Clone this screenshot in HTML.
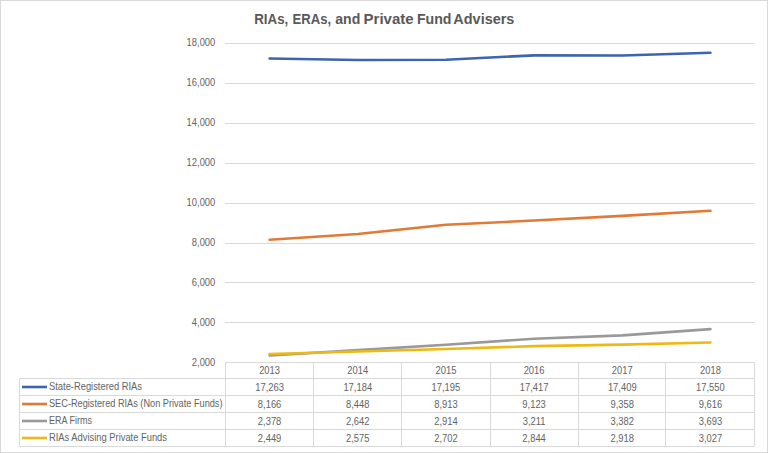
<!DOCTYPE html>
<html><head><meta charset="utf-8"><style>
html,body{margin:0;padding:0;background:#fff;}
body{width:768px;height:453px;overflow:hidden;position:relative;}
svg{position:absolute;left:0;top:0;}
text{font-family:"Liberation Sans",sans-serif;fill:#636363;}
text[font-weight="bold"]{fill:#595959;}
</style></head><body>
<svg width="768" height="453" viewBox="0 0 768 453">
<rect x="0.5" y="0.5" width="767" height="452" fill="#fff" stroke="#d9d9d9" stroke-width="1"/>
<text x="254.21" y="24.1" font-size="14.4" font-weight="bold" textLength="34.08" lengthAdjust="spacingAndGlyphs">RIAs,</text>
<text x="292.53" y="24.1" font-size="14.4" font-weight="bold" textLength="38.55" lengthAdjust="spacingAndGlyphs">ERAs,</text>
<text x="335.29" y="24.1" font-size="14.4" font-weight="bold" textLength="25.04" lengthAdjust="spacingAndGlyphs">and</text>
<text x="363.6" y="24.1" font-size="14.4" font-weight="bold" textLength="50.01" lengthAdjust="spacingAndGlyphs">Private</text>
<text x="416.96" y="24.1" font-size="14.4" font-weight="bold" textLength="34.57" lengthAdjust="spacingAndGlyphs">Fund</text>
<text x="453.39" y="24.1" font-size="14.4" font-weight="bold" textLength="60.95" lengthAdjust="spacingAndGlyphs">Advisers</text>

<line x1="225" y1="43.5" x2="754.5" y2="43.5" stroke="#d9d9d9" stroke-width="1"/>
<text transform="translate(215.3,45.90) scale(0.92,1)" font-size="10.2" text-anchor="end">18,000</text>
<line x1="225" y1="83.5" x2="754.5" y2="83.5" stroke="#d9d9d9" stroke-width="1"/>
<text transform="translate(215.3,85.90) scale(0.92,1)" font-size="10.2" text-anchor="end">16,000</text>
<line x1="225" y1="123.5" x2="754.5" y2="123.5" stroke="#d9d9d9" stroke-width="1"/>
<text transform="translate(215.3,125.90) scale(0.92,1)" font-size="10.2" text-anchor="end">14,000</text>
<line x1="225" y1="163.5" x2="754.5" y2="163.5" stroke="#d9d9d9" stroke-width="1"/>
<text transform="translate(215.3,165.90) scale(0.92,1)" font-size="10.2" text-anchor="end">12,000</text>
<line x1="225" y1="203.5" x2="754.5" y2="203.5" stroke="#d9d9d9" stroke-width="1"/>
<text transform="translate(215.3,205.90) scale(0.92,1)" font-size="10.2" text-anchor="end">10,000</text>
<line x1="225" y1="243.5" x2="754.5" y2="243.5" stroke="#d9d9d9" stroke-width="1"/>
<text transform="translate(215.3,245.90) scale(0.92,1)" font-size="10.2" text-anchor="end">8,000</text>
<line x1="225" y1="282.5" x2="754.5" y2="282.5" stroke="#d9d9d9" stroke-width="1"/>
<text transform="translate(215.3,285.90) scale(0.92,1)" font-size="10.2" text-anchor="end">6,000</text>
<line x1="225" y1="322.5" x2="754.5" y2="322.5" stroke="#d9d9d9" stroke-width="1"/>
<text transform="translate(215.3,325.90) scale(0.92,1)" font-size="10.2" text-anchor="end">4,000</text>
<text transform="translate(215.3,365.90) scale(0.92,1)" font-size="10.2" text-anchor="end">2,000</text>
<line x1="225" y1="362.5" x2="754.5" y2="362.5" stroke="#d9d9d9"/>
<line x1="19.5" y1="378.5" x2="754.5" y2="378.5" stroke="#d9d9d9"/>
<line x1="19.5" y1="395.5" x2="754.5" y2="395.5" stroke="#d9d9d9"/>
<line x1="19.5" y1="412.5" x2="754.5" y2="412.5" stroke="#d9d9d9"/>
<line x1="19.5" y1="429.5" x2="754.5" y2="429.5" stroke="#d9d9d9"/>
<line x1="19.5" y1="446.5" x2="754.5" y2="446.5" stroke="#d9d9d9"/>
<line x1="19.5" y1="378.5" x2="19.5" y2="446.5" stroke="#d9d9d9"/>
<line x1="225.5" y1="362.5" x2="225.5" y2="446.5" stroke="#d9d9d9"/>
<line x1="313.5" y1="362.5" x2="313.5" y2="446.5" stroke="#d9d9d9"/>
<line x1="401.5" y1="362.5" x2="401.5" y2="446.5" stroke="#d9d9d9"/>
<line x1="490.5" y1="362.5" x2="490.5" y2="446.5" stroke="#d9d9d9"/>
<line x1="578.5" y1="362.5" x2="578.5" y2="446.5" stroke="#d9d9d9"/>
<line x1="665.5" y1="362.5" x2="665.5" y2="446.5" stroke="#d9d9d9"/>
<line x1="754.5" y1="362.5" x2="754.5" y2="446.5" stroke="#d9d9d9"/>
<text transform="translate(269.58,373.90) scale(0.92,1)" font-size="10.2" text-anchor="middle">2013</text>
<text transform="translate(357.75,373.90) scale(0.92,1)" font-size="10.2" text-anchor="middle">2014</text>
<text transform="translate(445.92,373.90) scale(0.92,1)" font-size="10.2" text-anchor="middle">2015</text>
<text transform="translate(534.08,373.90) scale(0.92,1)" font-size="10.2" text-anchor="middle">2016</text>
<text transform="translate(622.25,373.90) scale(0.92,1)" font-size="10.2" text-anchor="middle">2017</text>
<text transform="translate(710.42,373.90) scale(0.92,1)" font-size="10.2" text-anchor="middle">2018</text>
<line x1="22" y1="387.0" x2="47" y2="387.0" stroke="#3D64AC" stroke-width="2.6"/>
<text x="49" y="390.40" font-size="10.2" textLength="93" lengthAdjust="spacingAndGlyphs">State-Registered RIAs</text>
<text transform="translate(269.58,391.00) scale(0.92,1)" font-size="10.2" text-anchor="middle">17,263</text>
<text transform="translate(357.75,391.00) scale(0.92,1)" font-size="10.2" text-anchor="middle">17,184</text>
<text transform="translate(445.92,391.00) scale(0.92,1)" font-size="10.2" text-anchor="middle">17,195</text>
<text transform="translate(534.08,391.00) scale(0.92,1)" font-size="10.2" text-anchor="middle">17,417</text>
<text transform="translate(622.25,391.00) scale(0.92,1)" font-size="10.2" text-anchor="middle">17,409</text>
<text transform="translate(710.42,391.00) scale(0.92,1)" font-size="10.2" text-anchor="middle">17,550</text>
<line x1="22" y1="404.0" x2="47" y2="404.0" stroke="#E07A35" stroke-width="2.6"/>
<text x="49" y="407.40" font-size="10.2" textLength="173.5" lengthAdjust="spacingAndGlyphs">SEC-Registered RIAs (Non Private Funds)</text>
<text transform="translate(269.58,408.00) scale(0.92,1)" font-size="10.2" text-anchor="middle">8,166</text>
<text transform="translate(357.75,408.00) scale(0.92,1)" font-size="10.2" text-anchor="middle">8,448</text>
<text transform="translate(445.92,408.00) scale(0.92,1)" font-size="10.2" text-anchor="middle">8,913</text>
<text transform="translate(534.08,408.00) scale(0.92,1)" font-size="10.2" text-anchor="middle">9,123</text>
<text transform="translate(622.25,408.00) scale(0.92,1)" font-size="10.2" text-anchor="middle">9,358</text>
<text transform="translate(710.42,408.00) scale(0.92,1)" font-size="10.2" text-anchor="middle">9,616</text>
<line x1="22" y1="421.0" x2="47" y2="421.0" stroke="#999999" stroke-width="2.6"/>
<text x="49" y="424.40" font-size="10.2" textLength="43" lengthAdjust="spacingAndGlyphs">ERA Firms</text>
<text transform="translate(269.58,425.00) scale(0.92,1)" font-size="10.2" text-anchor="middle">2,378</text>
<text transform="translate(357.75,425.00) scale(0.92,1)" font-size="10.2" text-anchor="middle">2,642</text>
<text transform="translate(445.92,425.00) scale(0.92,1)" font-size="10.2" text-anchor="middle">2,914</text>
<text transform="translate(534.08,425.00) scale(0.92,1)" font-size="10.2" text-anchor="middle">3,211</text>
<text transform="translate(622.25,425.00) scale(0.92,1)" font-size="10.2" text-anchor="middle">3,382</text>
<text transform="translate(710.42,425.00) scale(0.92,1)" font-size="10.2" text-anchor="middle">3,693</text>
<line x1="22" y1="438.0" x2="47" y2="438.0" stroke="#EDB913" stroke-width="2.6"/>
<text x="49" y="441.40" font-size="10.2" textLength="118" lengthAdjust="spacingAndGlyphs">RIAs Advising Private Funds</text>
<text transform="translate(269.58,442.00) scale(0.92,1)" font-size="10.2" text-anchor="middle">2,449</text>
<text transform="translate(357.75,442.00) scale(0.92,1)" font-size="10.2" text-anchor="middle">2,575</text>
<text transform="translate(445.92,442.00) scale(0.92,1)" font-size="10.2" text-anchor="middle">2,702</text>
<text transform="translate(534.08,442.00) scale(0.92,1)" font-size="10.2" text-anchor="middle">2,844</text>
<text transform="translate(622.25,442.00) scale(0.92,1)" font-size="10.2" text-anchor="middle">2,918</text>
<text transform="translate(710.42,442.00) scale(0.92,1)" font-size="10.2" text-anchor="middle">3,027</text>
<polyline points="269.58,58.44 357.75,60.02 445.92,59.80 534.08,55.36 622.25,55.52 710.42,52.70" fill="none" stroke="#3D64AC" stroke-width="2.6" stroke-linejoin="round" stroke-linecap="round"/>
<polyline points="269.58,239.68 357.75,234.04 445.92,224.74 534.08,220.54 622.25,215.84 710.42,210.68" fill="none" stroke="#E07A35" stroke-width="2.6" stroke-linejoin="round" stroke-linecap="round"/>
<polyline points="269.58,355.44 357.75,350.16 445.92,344.72 534.08,338.78 622.25,335.36 710.42,329.14" fill="none" stroke="#999999" stroke-width="2.6" stroke-linejoin="round" stroke-linecap="round"/>
<polyline points="269.58,354.02 357.75,351.50 445.92,348.96 534.08,346.12 622.25,344.64 710.42,342.46" fill="none" stroke="#EDB913" stroke-width="2.6" stroke-linejoin="round" stroke-linecap="round"/>
</svg></body></html>
